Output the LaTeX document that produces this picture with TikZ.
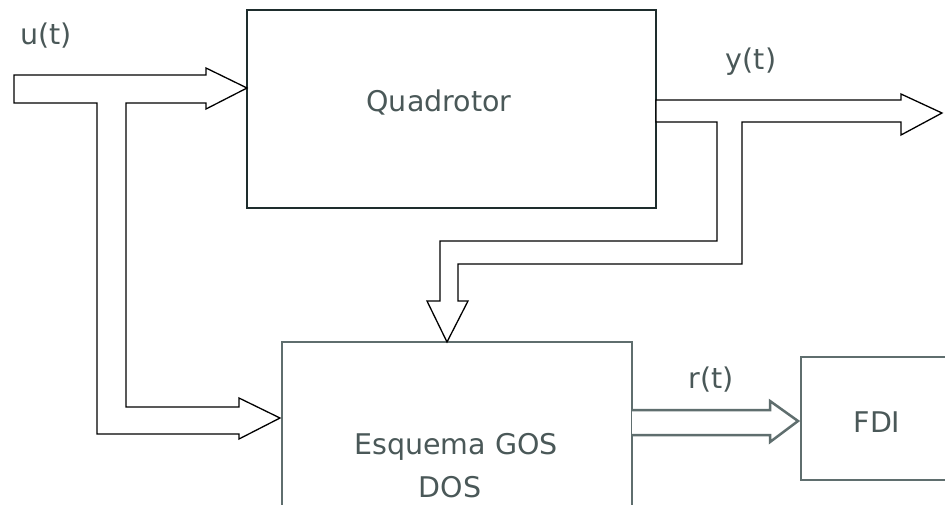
\documentclass[tikz,border=0pt]{standalone}
\usepackage{fontspec}
\setmainfont{DejaVu Sans}
\definecolor{txtgrey}{RGB}{74,88,88}
\definecolor{darkedge}{RGB}{30,45,45}
\definecolor{greyedge}{RGB}{95,110,110}
\begin{document}
\begin{tikzpicture}[x=1pt,y=-1pt,
  lbl/.style={text=txtgrey,font=\fontsize{28.5}{32}\selectfont,inner sep=0pt},
  blockarrow/.style={draw=black,line width=1.3pt,fill=white,line join=miter},
  resarrow/.style={draw=greyedge,line width=2.5pt,fill=white,line join=miter}]
\clip (0,0) rectangle (945,504);
\fill[white] (0,0) rectangle (945,504);
% boxes
\draw[darkedge,line width=1.6pt] (247,10) rectangle (656,208);
\node[lbl] (quad) at (439,103) {Quadrotor};
\draw[greyedge,line width=1.6pt] (282,342) rectangle (632,520);
\node[lbl] (gos) at (456,447) {Esquema GOS};
\node[lbl] (dos) at (450,487) {DOS};
\draw[greyedge,line width=2pt] (801,357) rectangle (960,480);
\node[lbl] (fdi) at (877,422) {FDI};
% input arrow
\draw[blockarrow] (14,75) -- (206,75) -- (206,68) -- (247,88) -- (206,109) -- (206,103)
  -- (126,103) -- (126,407) -- (239,407) -- (239,398) -- (280,418) -- (239,439) -- (239,434)
  -- (97,434) -- (97,103) -- (14,103) -- cycle;
% output arrow
\draw[blockarrow] (656,100) -- (901,100) -- (901,94) -- (942,113) -- (901,135) -- (901,122)
  -- (742,122) -- (742,264) -- (458,264) -- (458,301) -- (468,301) -- (447,342) -- (427,301)
  -- (440,301) -- (440,241) -- (717,241) -- (717,122) -- (656,122) -- cycle;
% residual arrow
\draw[resarrow] (632,410) -- (770,410) -- (770,401) -- (798,421) -- (770,442) -- (770,435) -- (632,435);
% labels
\node[lbl] (u) at (46,36) {u(t)};
\node[lbl] (y) at (751,62) {y(t)};
\node[lbl] (r) at (711,380) {r(t)};
\end{tikzpicture}
\end{document}
